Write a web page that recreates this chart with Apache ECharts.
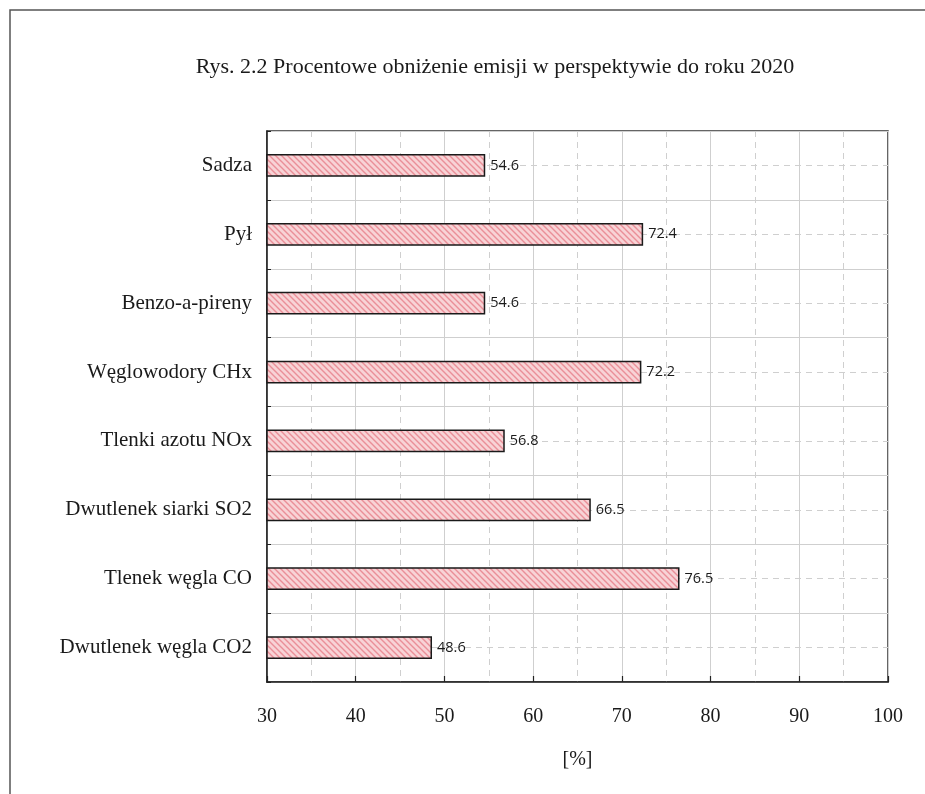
<!DOCTYPE html>
<html>
<head>
<meta charset="utf-8">
<script src="https://cdn.jsdelivr.net/npm/echarts@6/dist/echarts.min.js"></script>
<style>
  html, body { margin: 0; padding: 0; background: #fff; }
  #chart { width: 925px; height: 794px; }
</style>
</head>
<body>
<div id="chart"></div>
<script>
// Emission categories, listed bottom to top as drawn on the category axis
const categories = [
  'Dwutlenek węgla CO2',
  'Tlenek węgla CO',
  'Dwutlenek siarki SO2',
  'Tlenki azotu NOx',
  'Węglowodory CHx',
  'Benzo-a-pireny',
  'Pył',
  'Sadza'
];
// Percentage reduction for each category
const reduction = [48.6, 76.5, 66.5, 56.8, 72.2, 54.6, 72.4, 54.6];
// Value axis range and step
const xMin = 30;
const xMax = 100;
const xStep = 10;

const titleText = 'Rys. 2.2 Procentowe obniżenie emisji w perspektywie do roku 2020';
const axisName = '[%]';

// Pink fill with diagonal "\" hatching
function hatchPattern() {
  const c = document.createElement('canvas');
  c.width = 6; c.height = 6;
  const g = c.getContext('2d');
  g.fillStyle = '#f8d3d6';
  g.fillRect(0, 0, 6, 6);
  g.strokeStyle = '#ea8f98';
  g.lineWidth = 1.4;
  g.beginPath();
  g.moveTo(-1, -1); g.lineTo(7, 7);
  g.moveTo(-4, 2); g.lineTo(4, 10);
  g.moveTo(2, -4); g.lineTo(10, 4);
  g.stroke();
  return c;
}

const serif = '"Liberation Serif", "DejaVu Serif", serif';
const chart = echarts.init(document.getElementById('chart'), null, { renderer: 'canvas' });

chart.setOption({
  backgroundColor: '#ffffff',
  animation: false,
  title: {
    text: titleText,
    left: 490,
    top: 51,
    textAlign: 'center',
    textStyle: { fontFamily: serif, fontSize: 22, fontWeight: 'normal', color: '#1a1a1a' }
  },
  graphic: [{
    type: 'rect',
    shape: { x: 10, y: 10, width: 1000, height: 1000 },
    style: { fill: 'none', stroke: '#555', lineWidth: 1.5 },
    silent: true
  }],
  grid: {
    left: 267, right: 37, top: 131, bottom: 112,
    show: true, borderColor: '#333', borderWidth: 1.5, backgroundColor: 'transparent'
  },
  xAxis: {
    type: 'value',
    min: xMin, max: xMax, interval: xStep,
    name: axisName,
    nameLocation: 'middle',
    nameGap: 68,
    nameTextStyle: { fontFamily: serif, fontSize: 20, color: '#1a1a1a' },
    axisLine: { show: true, lineStyle: { color: '#222', width: 1.5 } },
    axisTick: { show: true, inside: true, length: 6, lineStyle: { color: '#222', width: 1.2 } },
    axisLabel: { fontFamily: serif, fontSize: 20, color: '#1a1a1a', margin: 25 },
    splitLine: { show: true, lineStyle: { color: '#cfcfcf', width: 1 } },
    minorTick: { show: false, splitNumber: 2 },
    minorSplitLine: { show: true, lineStyle: { color: '#cfcfcf', width: 1, type: [6, 5] } }
  },
  yAxis: [{
    type: 'category',
    data: categories,
    axisLine: { show: true, lineStyle: { color: '#222', width: 1.5 } },
    axisTick: { show: true, inside: true, length: 4, lineStyle: { color: '#222' } },
    axisLabel: { fontFamily: serif, fontSize: 21, color: '#1a1a1a', margin: 15 },
    splitLine: { show: false }
  }, {
    // helper axis for the horizontal grid: solid between rows, dashed through rows
    type: 'value',
    min: 0, max: categories.length, interval: 1,
    position: 'left',
    axisLine: { show: false },
    axisTick: { show: false },
    axisLabel: { show: false },
    splitLine: { show: true, lineStyle: { color: '#cfcfcf', width: 1 } },
    minorTick: { show: false, splitNumber: 2 },
    minorSplitLine: { show: true, lineStyle: { color: '#cfcfcf', width: 1, type: [6, 5] } }
  }],
  series: [{
    type: 'bar',
    yAxisIndex: 0,
    data: reduction,
    barWidth: '33%',
    itemStyle: {
      color: { image: hatchPattern(), repeat: 'repeat' },
      borderColor: '#1a1a1a',
      borderWidth: 1.5
    },
    label: {
      show: true,
      position: 'right',
      distance: 5,
      fontFamily: '"Open Sans", "Noto Sans", sans-serif',
      fontSize: 14.5,
      color: '#1a1a1a',
      formatter: p => p.value.toFixed(1)
    },
    z: 3
  }]
});
</script>
</body>
</html>
